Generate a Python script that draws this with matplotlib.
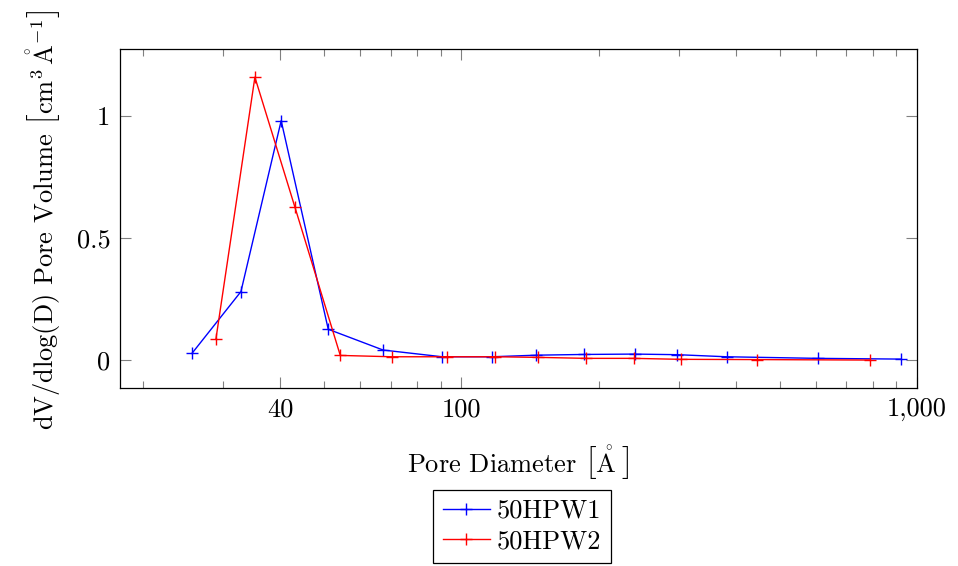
import matplotlib
matplotlib.use("Agg")
import matplotlib.pyplot as plt
from matplotlib.ticker import FixedLocator, FixedFormatter

plt.rcParams['mathtext.fontset'] = 'cm'
plt.rcParams['font.family'] = ['cmr10', 'DejaVu Serif']
plt.rcParams['axes.unicode_minus'] = False

# Data
d1 = [25.6, 32.8, 40.2, 51.0, 67.3, 90.7, 116.7, 145.9, 186, 240, 298, 382, 605, 920]
v1 = [0.027, 0.28, 0.979, 0.126, 0.041, 0.0135, 0.0135, 0.020, 0.023, 0.0245, 0.022, 0.0135, 0.007, 0.004]
d2 = [28.9, 35.2, 43.1, 54.2, 70.4, 93.0, 118.7, 147.6, 188, 239, 303, 445, 789]
v2 = [0.085, 1.157, 0.625, 0.019, 0.0135, 0.0135, 0.0135, 0.011, 0.007, 0.007, 0.003, 0.002, 0.000]
labels = ['50HPW1', '50HPW2']

xticks = [40, 100, 1000]
xticklabels = ['40', '100', '1,000']
xminor = [20, 30, 50, 60, 70, 80, 90, 200, 300, 400, 500, 600, 700, 800, 900]
yticks = [0, 0.5, 1]
yticklabels = ['0', '0.5', '1']

FS = 19

fig = plt.figure(figsize=(9.58, 5.66), dpi=100)
ax = fig.add_axes([120/958, 1-387.7/566, (917-120)/958, (387.7-49.3)/566])

ax.plot(d1, v1, color='#0000ff', lw=1.0, marker='+', ms=8, mew=1.0, label=labels[0])
ax.plot(d2, v2, color='#ff0000', lw=1.0, marker='+', ms=8, mew=1.0, label=labels[1])

ax.set_xscale('log')
ax.set_xlim(17.8, 1000)
ax.set_ylim(-0.113, 1.271)

ax.xaxis.set_major_locator(FixedLocator(xticks))
ax.xaxis.set_major_formatter(FixedFormatter(xticklabels))
ax.xaxis.set_minor_locator(FixedLocator(xminor))
ax.xaxis.set_minor_formatter(FixedFormatter([''] * len(xminor)))
ax.yaxis.set_major_locator(FixedLocator(yticks))
ax.yaxis.set_major_formatter(FixedFormatter(yticklabels))
ax.yaxis.set_minor_locator(FixedLocator([]))

ax.tick_params(which='both', direction='in', top=True, right=True, color='#808080', width=0.8)
ax.tick_params(which='major', length=8, labelsize=FS)
ax.tick_params(axis='x', which='major', pad=7)
ax.tick_params(axis='y', which='major', pad=7)
ax.tick_params(which='minor', length=5)
for s in ax.spines.values():
    s.set_linewidth(0.9)
    s.set_color('black')

ax.set_xlabel(r'Pore Diameter $\left[\mathring{\mathrm{A}}_{\,}^{\,}\right]$', fontsize=FS)
ax.xaxis.label.set_va('center')
ax.xaxis.set_label_coords(0.5, -(463-387.7)/338.4)
ax.set_ylabel(r'dV/dlog(D) Pore Volume $\left[\mathrm{cm}^3\,\mathring{\mathrm{A}}^{-1}_{\,}\right]$', fontsize=FS)
ax.yaxis.label.set_va('center')
ax.yaxis.set_label_coords((44-120)/797, (387.7-220)/338.4)

leg = fig.legend(loc='upper center', bbox_to_anchor=(522/958, 1-490/566), fontsize=FS,
                 frameon=True, fancybox=False, edgecolor='black', framealpha=1,
                 handlelength=1.8, borderpad=0.35, labelspacing=0.25, handletextpad=0.25,
                 borderaxespad=0, numpoints=1)
leg.get_frame().set_linewidth(0.9)

fig.savefig('out.png', dpi=100)
